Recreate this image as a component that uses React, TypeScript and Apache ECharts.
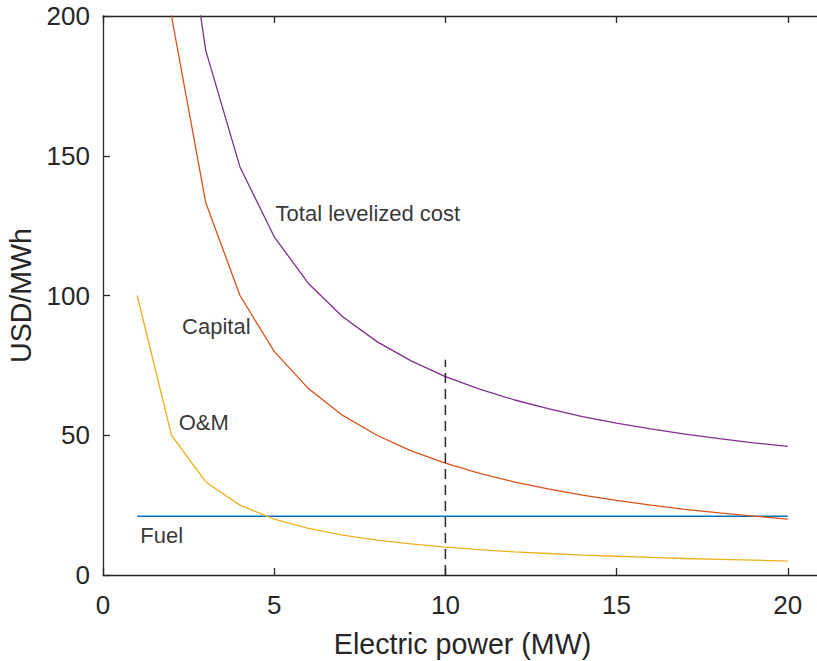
import React, { useEffect, useRef } from "react";
import * as echarts from "echarts";

const powerMW = [1, 2, 3, 4, 5, 6, 7, 8, 9, 10, 11, 12, 13, 14, 15, 16, 17, 18, 19, 20];
const fuel = [21, 21, 21, 21, 21, 21, 21, 21, 21, 21, 21, 21, 21, 21, 21, 21, 21, 21, 21, 21];
const oAndM = [100, 50, 33.3, 25, 20, 16.7, 14.3, 12.5, 11.1, 10, 9.1, 8.3, 7.7, 7.1, 6.7, 6.3, 5.9, 5.6, 5.3, 5];
const capital = [400, 200, 133.3, 100, 80, 66.7, 57.1, 50, 44.4, 40, 36.4, 33.3, 30.8, 28.6, 26.7, 25, 23.5, 22.2, 21.1, 20];
const total = [521, 271, 187.7, 146, 121, 104.3, 92.4, 83.5, 76.6, 71, 66.5, 62.7, 59.5, 56.7, 54.3, 52.3, 50.4, 48.8, 47.3, 46];

const markerX = [10, 10];
const markerY = [0, 77];

const annotationNames = ["Total levelized cost", "Capital", "O&M", "Fuel"];
const annotationX = [5.04, 2.31, 2.21, 1.09];
const annotationY = [129.4, 88.9, 54.6, 14.0];

const xTicks = [0, 5, 10, 15, 20];
const yTicks = [0, 50, 100, 150, 200];

const FONT = "'Liberation Sans', Arial, Helvetica, sans-serif";
const AXIS_COLOR = "#262626";

export default function App() {
  const ref = useRef<HTMLDivElement>(null);

  useEffect(() => {
    if (!ref.current) return;
    const chart = echarts.init(ref.current, null, { renderer: "svg" });
    const pairs = (ys: number[]) => powerMW.map((x, i) => [x, ys[i]]);

    const option: any = {
      animation: false,
      backgroundColor: "#ffffff",
      textStyle: { fontFamily: FONT },
      grid: {
        left: 103,
        top: 16,
        right: -5,
        bottom: 86,
        containLabel: false,
        outerBoundsMode: "none",
      },
      xAxis: [
        {
          type: "value",
          min: xTicks[0],
          max: 21,
          interval: 5,
          position: "bottom",
          name: "Electric power (MW)",
          nameLocation: "middle",
          nameGap: 69,
          nameTextStyle: {
            fontSize: 28.6,
            color: AXIS_COLOR,
            fontFamily: FONT,
            verticalAlign: "middle",
          },
          axisLine: { show: true, onZero: false, lineStyle: { color: AXIS_COLOR, width: 1.3 } },
          axisTick: { show: true, inside: true, length: 7, lineStyle: { color: AXIS_COLOR, width: 1.3 } },
          axisLabel: {
            show: true,
            fontSize: 26,
            color: AXIS_COLOR,
            margin: 17,
            fontFamily: FONT,
            showMaxLabel: false,
            formatter: (v: number) => (xTicks.indexOf(v) >= 0 ? String(v) : ""),
          },
          splitLine: { show: false },
        },
        {
          type: "value",
          min: xTicks[0],
          max: 21,
          interval: 5,
          position: "top",
          axisLine: { show: true, onZero: false, lineStyle: { color: AXIS_COLOR, width: 1.3 } },
          axisTick: { show: true, inside: true, length: 7, lineStyle: { color: AXIS_COLOR, width: 1.3 } },
          axisLabel: { show: false },
          splitLine: { show: false },
        },
      ],
      yAxis: {
        type: "value",
        min: yTicks[0],
        max: yTicks[yTicks.length - 1],
        interval: 50,
        name: "USD/MWh",
        nameLocation: "middle",
        nameGap: 80,
        nameRotate: 90,
        nameTextStyle: {
          fontSize: 28.6,
          color: AXIS_COLOR,
          fontFamily: FONT,
          verticalAlign: "middle",
        },
        axisLine: { show: true, onZero: false, lineStyle: { color: AXIS_COLOR, width: 1.3 } },
        axisTick: { show: true, inside: true, length: 7, lineStyle: { color: AXIS_COLOR, width: 1.3 } },
        axisLabel: { fontSize: 26, color: AXIS_COLOR, margin: 13, fontFamily: FONT },
        splitLine: { show: false },
      },
      series: [
        {
          name: "Fuel",
          type: "line",
          data: pairs(fuel),
          showSymbol: false,
          symbol: "none",
          clip: true,
          lineStyle: { color: "#0072BD", width: 1.6 },
        },
        {
          name: "Capital",
          type: "line",
          data: pairs(capital),
          showSymbol: false,
          symbol: "none",
          clip: true,
          lineStyle: { color: "#D95319", width: 1.3 },
        },
        {
          name: "O&M",
          type: "line",
          data: pairs(oAndM),
          showSymbol: false,
          symbol: "none",
          clip: true,
          lineStyle: { color: "#EDB120", width: 1.3 },
        },
        {
          name: "Total levelized cost",
          type: "line",
          data: pairs(total),
          showSymbol: false,
          symbol: "none",
          clip: true,
          lineStyle: { color: "#7E2F8E", width: 1.3 },
        },
        {
          name: "marker",
          type: "line",
          data: markerX.map((x, i) => [x, markerY[i]]),
          showSymbol: false,
          symbol: "none",
          clip: true,
          lineStyle: { color: "#262626", width: 1.5, type: [10, 6] },
        },
        {
          name: "annotations",
          type: "scatter",
          symbolSize: 0,
          data: annotationNames.map((n, i) => ({ name: n, value: [annotationX[i], annotationY[i]] })),
          label: {
            show: true,
            position: [0, 0],
            align: "left",
            verticalAlign: "middle",
            formatter: "{b}",
            fontSize: 22,
            color: "#000000",
            fontFamily: FONT,
          },
          silent: true,
        },
      ],
    };

    chart.setOption(option);
    return () => chart.dispose();
  }, []);

  return (
    <div
      ref={ref}
      style={{ position: "absolute", left: 0, top: 0, width: 817, height: 661, background: "#fff" }}
    />
  );
}
